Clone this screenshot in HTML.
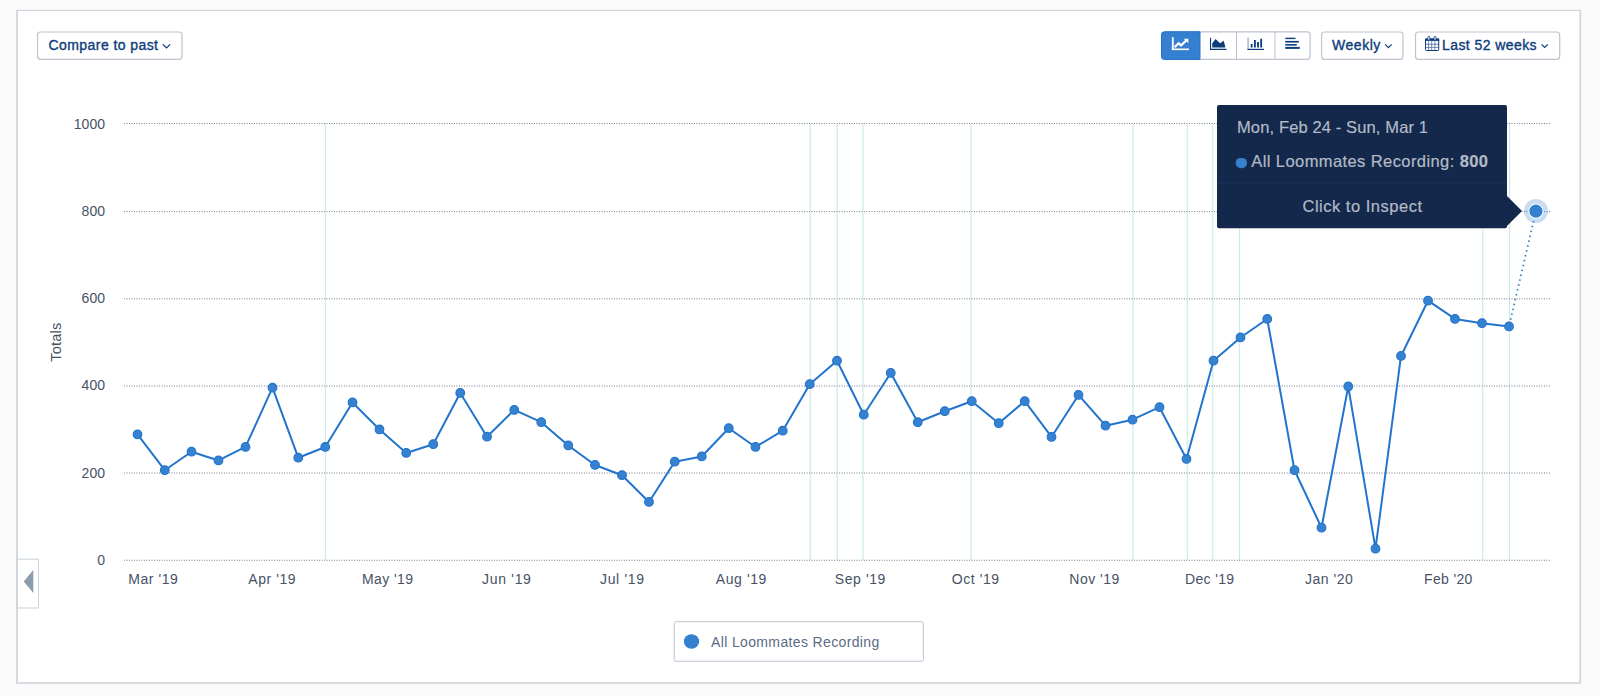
<!DOCTYPE html>
<html><head><meta charset="utf-8"><title>Chart</title>
<style>
html,body{margin:0;padding:0}
body{width:1600px;height:696px;background:#fafafa;position:relative;overflow:hidden;font-family:"Liberation Sans",sans-serif}
.chart{position:absolute;left:0;top:0;display:block}
text{font-family:"Liberation Sans",sans-serif;white-space:pre}
.ax{font-size:14px;fill:#465266;letter-spacing:.3px}
.ay{font-size:14px;fill:#465266;letter-spacing:.05px}
.bt{font-size:14px;fill:#0c3c7a;stroke:#0c3c7a;stroke-width:.35px}
.tt{font-size:16.5px;fill:#b2bac6;stroke:#b2bac6;stroke-width:.2px}
.lg{font-size:14px;fill:#5b6b84}
</style></head><body>
<svg class="chart" width="1600" height="696" viewBox="0 0 1600 696">
<rect x="16.1" y="9.8" width="1565" height="674.1" fill="#d1d6dd"/>
<rect x="18" y="11" width="1561.4" height="671.2" fill="#fff"/>
<line x1="325.5" y1="123" x2="325.5" y2="560" stroke="#cdeae8" stroke-width="1.2"/>
<line x1="810.25" y1="123" x2="810.25" y2="560" stroke="#cdeae8" stroke-width="1.2"/>
<line x1="837.25" y1="123" x2="837.25" y2="560" stroke="#cdeae8" stroke-width="1.2"/>
<line x1="863" y1="123" x2="863" y2="560" stroke="#cdeae8" stroke-width="1.2"/>
<line x1="971" y1="123" x2="971" y2="560" stroke="#cdeae8" stroke-width="1.2"/>
<line x1="1133" y1="123" x2="1133" y2="560" stroke="#cdeae8" stroke-width="1.2"/>
<line x1="1187.25" y1="123" x2="1187.25" y2="560" stroke="#cdeae8" stroke-width="1.2"/>
<line x1="1212.75" y1="123" x2="1212.75" y2="560" stroke="#cdeae8" stroke-width="1.2"/>
<line x1="1239.5" y1="123" x2="1239.5" y2="560" stroke="#cdeae8" stroke-width="1.2"/>
<line x1="1482.75" y1="123" x2="1482.75" y2="560" stroke="#cdeae8" stroke-width="1.2"/>
<line x1="1509.5" y1="123" x2="1509.5" y2="560" stroke="#cdeae8" stroke-width="1.2"/>
<line x1="124" y1="123.45" x2="1551" y2="123.45" stroke="#7b8292" stroke-width="1" stroke-dasharray="1 4"/>
<line x1="126" y1="123.45" x2="1551" y2="123.45" stroke="#b4bac4" stroke-width="1" stroke-dasharray="2 3"/>
<text x="105.1" y="128.9" text-anchor="end" class="ay">1000</text>
<line x1="124" y1="211.6" x2="1551" y2="211.6" stroke="#7b8292" stroke-width="1" stroke-dasharray="1 4"/>
<line x1="126" y1="211.6" x2="1551" y2="211.6" stroke="#b4bac4" stroke-width="1" stroke-dasharray="2 3"/>
<text x="105.1" y="216.1" text-anchor="end" class="ay">800</text>
<line x1="124" y1="298.85" x2="1551" y2="298.85" stroke="#7b8292" stroke-width="1" stroke-dasharray="1 4"/>
<line x1="126" y1="298.85" x2="1551" y2="298.85" stroke="#b4bac4" stroke-width="1" stroke-dasharray="2 3"/>
<text x="105.1" y="303.2" text-anchor="end" class="ay">600</text>
<line x1="124" y1="386.0" x2="1551" y2="386.0" stroke="#7b8292" stroke-width="1" stroke-dasharray="1 4"/>
<line x1="126" y1="386.0" x2="1551" y2="386.0" stroke="#b4bac4" stroke-width="1" stroke-dasharray="2 3"/>
<text x="105.1" y="390.4" text-anchor="end" class="ay">400</text>
<line x1="124" y1="473" x2="1551" y2="473" stroke="#7b8292" stroke-width="1" stroke-dasharray="1 4"/>
<line x1="126" y1="473" x2="1551" y2="473" stroke="#b4bac4" stroke-width="1" stroke-dasharray="2 3"/>
<text x="105.1" y="477.5" text-anchor="end" class="ay">200</text>
<line x1="124" y1="560.25" x2="1551" y2="560.25" stroke="#7b8292" stroke-width="1" stroke-dasharray="1 4"/>
<line x1="126" y1="560.25" x2="1551" y2="560.25" stroke="#b4bac4" stroke-width="1" stroke-dasharray="2 3"/>
<text x="105.1" y="564.6" text-anchor="end" class="ay">0</text>
<text x="128.20" y="583.7" class="ax" textLength="49.90">Mar '19</text>
<text x="248.25" y="583.7" class="ax" textLength="47.70">Apr '19</text>
<text x="362.00" y="583.7" class="ax" textLength="51.30">May '19</text>
<text x="482.10" y="583.7" class="ax" textLength="49.10">Jun '19</text>
<text x="600.00" y="583.7" class="ax" textLength="44.30">Jul '19</text>
<text x="715.80" y="583.7" class="ax" textLength="50.90">Aug '19</text>
<text x="834.80" y="583.7" class="ax" textLength="50.90">Sep '19</text>
<text x="951.70" y="583.7" class="ax" textLength="47.70">Oct '19</text>
<text x="1069.30" y="583.7" class="ax" textLength="50.20">Nov '19</text>
<text x="1185.00" y="583.7" class="ax" textLength="49.45">Dec '19</text>
<text x="1305.00" y="583.7" class="ax" textLength="48.20">Jan '20</text>
<text x="1424.00" y="583.7" class="ax" textLength="48.70">Feb '20</text>
<text transform="translate(61,361.7) rotate(-90)" class="ax" style="font-size:14.6px" textLength="39.2">Totals</text>
<path d="M137.5 434.45 L164.75 470.2 L191.5 451.7 L218.5 460.45 L245.5 446.95 L272.5 387.7 L298.25 457.7 L325.25 446.95 L352.5 402.45 L379.5 429.45 L406.25 452.95 L433.25 444.2 L460.25 392.95 L487.0 436.7 L514.25 409.95 L541.25 422.2 L568.25 445.45 L595.0 464.95 L622.0 475.2 L649.0 501.95 L674.75 461.7 L701.75 456.45 L728.75 428.2 L755.5 446.95 L782.75 430.7 L809.75 384.2 L837.0 360.7 L863.75 414.7 L890.75 372.95 L917.75 422.2 L944.75 411.2 L971.75 401.2 L998.75 423.2 L1024.75 401.2 L1051.5 436.95 L1078.5 394.95 L1105.5 425.7 L1132.5 419.7 L1159.5 407.2 L1186.5 458.95 L1213.5 360.7 L1240.5 337.45 L1267.25 318.95 L1294.5 470.2 L1321.5 527.7 L1348.25 386.45 L1375.5 548.7 L1401.0 355.95 L1428.0 300.7 L1455.0 318.95 L1482.0 323.2 L1509.0 326.45" fill="none" stroke="#2274cc" stroke-width="2" stroke-linejoin="round"/>
<line x1="1509.0" y1="326.45" x2="1535.9" y2="211.1" stroke="#3480cf" stroke-width="1.8" stroke-dasharray="1.5 3.5" stroke-dashoffset="-1.85"/>
<circle cx="137.5" cy="434.45" r="4.35" fill="#3782d0" stroke="#2274cc" stroke-width="1.1"/>
<circle cx="164.75" cy="470.2" r="4.35" fill="#3782d0" stroke="#2274cc" stroke-width="1.1"/>
<circle cx="191.5" cy="451.7" r="4.35" fill="#3782d0" stroke="#2274cc" stroke-width="1.1"/>
<circle cx="218.5" cy="460.45" r="4.35" fill="#3782d0" stroke="#2274cc" stroke-width="1.1"/>
<circle cx="245.5" cy="446.95" r="4.35" fill="#3782d0" stroke="#2274cc" stroke-width="1.1"/>
<circle cx="272.5" cy="387.7" r="4.35" fill="#3782d0" stroke="#2274cc" stroke-width="1.1"/>
<circle cx="298.25" cy="457.7" r="4.35" fill="#3782d0" stroke="#2274cc" stroke-width="1.1"/>
<circle cx="325.25" cy="446.95" r="4.35" fill="#3782d0" stroke="#2274cc" stroke-width="1.1"/>
<circle cx="352.5" cy="402.45" r="4.35" fill="#3782d0" stroke="#2274cc" stroke-width="1.1"/>
<circle cx="379.5" cy="429.45" r="4.35" fill="#3782d0" stroke="#2274cc" stroke-width="1.1"/>
<circle cx="406.25" cy="452.95" r="4.35" fill="#3782d0" stroke="#2274cc" stroke-width="1.1"/>
<circle cx="433.25" cy="444.2" r="4.35" fill="#3782d0" stroke="#2274cc" stroke-width="1.1"/>
<circle cx="460.25" cy="392.95" r="4.35" fill="#3782d0" stroke="#2274cc" stroke-width="1.1"/>
<circle cx="487.0" cy="436.7" r="4.35" fill="#3782d0" stroke="#2274cc" stroke-width="1.1"/>
<circle cx="514.25" cy="409.95" r="4.35" fill="#3782d0" stroke="#2274cc" stroke-width="1.1"/>
<circle cx="541.25" cy="422.2" r="4.35" fill="#3782d0" stroke="#2274cc" stroke-width="1.1"/>
<circle cx="568.25" cy="445.45" r="4.35" fill="#3782d0" stroke="#2274cc" stroke-width="1.1"/>
<circle cx="595.0" cy="464.95" r="4.35" fill="#3782d0" stroke="#2274cc" stroke-width="1.1"/>
<circle cx="622.0" cy="475.2" r="4.35" fill="#3782d0" stroke="#2274cc" stroke-width="1.1"/>
<circle cx="649.0" cy="501.95" r="4.35" fill="#3782d0" stroke="#2274cc" stroke-width="1.1"/>
<circle cx="674.75" cy="461.7" r="4.35" fill="#3782d0" stroke="#2274cc" stroke-width="1.1"/>
<circle cx="701.75" cy="456.45" r="4.35" fill="#3782d0" stroke="#2274cc" stroke-width="1.1"/>
<circle cx="728.75" cy="428.2" r="4.35" fill="#3782d0" stroke="#2274cc" stroke-width="1.1"/>
<circle cx="755.5" cy="446.95" r="4.35" fill="#3782d0" stroke="#2274cc" stroke-width="1.1"/>
<circle cx="782.75" cy="430.7" r="4.35" fill="#3782d0" stroke="#2274cc" stroke-width="1.1"/>
<circle cx="809.75" cy="384.2" r="4.35" fill="#3782d0" stroke="#2274cc" stroke-width="1.1"/>
<circle cx="837.0" cy="360.7" r="4.35" fill="#3782d0" stroke="#2274cc" stroke-width="1.1"/>
<circle cx="863.75" cy="414.7" r="4.35" fill="#3782d0" stroke="#2274cc" stroke-width="1.1"/>
<circle cx="890.75" cy="372.95" r="4.35" fill="#3782d0" stroke="#2274cc" stroke-width="1.1"/>
<circle cx="917.75" cy="422.2" r="4.35" fill="#3782d0" stroke="#2274cc" stroke-width="1.1"/>
<circle cx="944.75" cy="411.2" r="4.35" fill="#3782d0" stroke="#2274cc" stroke-width="1.1"/>
<circle cx="971.75" cy="401.2" r="4.35" fill="#3782d0" stroke="#2274cc" stroke-width="1.1"/>
<circle cx="998.75" cy="423.2" r="4.35" fill="#3782d0" stroke="#2274cc" stroke-width="1.1"/>
<circle cx="1024.75" cy="401.2" r="4.35" fill="#3782d0" stroke="#2274cc" stroke-width="1.1"/>
<circle cx="1051.5" cy="436.95" r="4.35" fill="#3782d0" stroke="#2274cc" stroke-width="1.1"/>
<circle cx="1078.5" cy="394.95" r="4.35" fill="#3782d0" stroke="#2274cc" stroke-width="1.1"/>
<circle cx="1105.5" cy="425.7" r="4.35" fill="#3782d0" stroke="#2274cc" stroke-width="1.1"/>
<circle cx="1132.5" cy="419.7" r="4.35" fill="#3782d0" stroke="#2274cc" stroke-width="1.1"/>
<circle cx="1159.5" cy="407.2" r="4.35" fill="#3782d0" stroke="#2274cc" stroke-width="1.1"/>
<circle cx="1186.5" cy="458.95" r="4.35" fill="#3782d0" stroke="#2274cc" stroke-width="1.1"/>
<circle cx="1213.5" cy="360.7" r="4.35" fill="#3782d0" stroke="#2274cc" stroke-width="1.1"/>
<circle cx="1240.5" cy="337.45" r="4.35" fill="#3782d0" stroke="#2274cc" stroke-width="1.1"/>
<circle cx="1267.25" cy="318.95" r="4.35" fill="#3782d0" stroke="#2274cc" stroke-width="1.1"/>
<circle cx="1294.5" cy="470.2" r="4.35" fill="#3782d0" stroke="#2274cc" stroke-width="1.1"/>
<circle cx="1321.5" cy="527.7" r="4.35" fill="#3782d0" stroke="#2274cc" stroke-width="1.1"/>
<circle cx="1348.25" cy="386.45" r="4.35" fill="#3782d0" stroke="#2274cc" stroke-width="1.1"/>
<circle cx="1375.5" cy="548.7" r="4.35" fill="#3782d0" stroke="#2274cc" stroke-width="1.1"/>
<circle cx="1401.0" cy="355.95" r="4.35" fill="#3782d0" stroke="#2274cc" stroke-width="1.1"/>
<circle cx="1428.0" cy="300.7" r="4.35" fill="#3782d0" stroke="#2274cc" stroke-width="1.1"/>
<circle cx="1455.0" cy="318.95" r="4.35" fill="#3782d0" stroke="#2274cc" stroke-width="1.1"/>
<circle cx="1482.0" cy="323.2" r="4.35" fill="#3782d0" stroke="#2274cc" stroke-width="1.1"/>
<circle cx="1509.0" cy="326.45" r="4.35" fill="#3782d0" stroke="#2274cc" stroke-width="1.1"/>
<circle cx="1535.9" cy="211.1" r="12.05" fill="#3480cf" fill-opacity=".27"/>
<circle cx="1535.9" cy="211.1" r="7.6" fill="#fff"/>
<circle cx="1535.9" cy="211.1" r="6.6" fill="#3480cf"/>
<rect x="37.5" y="32" width="144.5" height="27.3" rx="3" fill="#fff" stroke="#bcc4cf" stroke-width="1.2"/>
<text x="48.5" y="49.6" class="bt" textLength="109.5">Compare to past</text>
<path d="M162.9 44.4 L166.5 48 L170.1 44.4" fill="none" stroke="#0c3c7a" stroke-width="1.2"/>
<rect x="1161.5" y="31.9" width="148.6" height="27.4" rx="3" fill="#fff" stroke="#bcc4cf" stroke-width="1.2"/>
<path d="M1164.5 31.8 H1200 V59.4 H1164.5 a3 3 0 0 1 -3 -3 V34.8 a3 3 0 0 1 3 -3 Z" fill="#357fd0" stroke="#2475cc" stroke-width="1"/>
<rect x="1236" y="32" width="1" height="27" fill="#bcc4cf"/><rect x="1274.5" y="32" width="1" height="27" fill="#bcc4cf"/>
<rect x="1171.9" y="37.25" width="1.8" height="12.8" fill="#fff"/><rect x="1171.9" y="48.5" width="17.1" height="1.6" fill="#fff"/>
<path d="M1174.6 47.2 L1178.75 43.25 L1181 45.5 L1186.4 40.2" fill="none" stroke="#fff" stroke-width="2.3"/>
<path d="M1183.8 38.75 H1188.3 V43.2 Z" fill="#fff"/>
<rect x="1210" y="37.75" width="1.1" height="12.3" fill="#0c3c7a"/><rect x="1210" y="48.7" width="16.5" height="1.3" fill="#0c3c7a"/>
<path d="M1212.25 47.5 V43.25 L1215.5 39 L1220 43.25 L1223.75 40.75 L1225.4 47.5 Z" fill="#0c3c7a"/>
<rect x="1247.5" y="37.5" width="1.1" height="12.3" fill="#0c3c7a" opacity=".5"/><rect x="1247.5" y="48.8" width="16.5" height="1.2" fill="#0c3c7a"/>
<rect x="1250.75" y="44" width="1.8" height="3.5" fill="#0c3c7a"/>
<rect x="1254.00" y="40" width="1.8" height="7.5" fill="#0c3c7a"/>
<rect x="1257.10" y="42" width="1.8" height="5.5" fill="#0c3c7a"/>
<rect x="1260.25" y="38.75" width="1.8" height="8.75" fill="#0c3c7a"/>
<rect x="1285.25" y="37.70" width="10.25" height="1.4" fill="#0c3c7a"/>
<rect x="1285.25" y="40.90" width="13.50" height="1.7" fill="#0c3c7a"/>
<rect x="1285.25" y="44.05" width="11.50" height="1.6" fill="#0c3c7a"/>
<rect x="1285.25" y="46.90" width="14.50" height="2" fill="#0c3c7a"/>
<rect x="1321.6" y="32" width="81.4" height="27.3" rx="3" fill="#fff" stroke="#bcc4cf" stroke-width="1.2"/>
<text x="1332.1" y="49.7" class="bt" textLength="48.2">Weekly</text>
<path d="M1385.2 44.4 L1388.4 47.6 L1391.6 44.4" fill="none" stroke="#0c3c7a" stroke-width="1.2"/>
<rect x="1415.5" y="32" width="144.2" height="27.3" rx="3" fill="#fff" stroke="#bcc4cf" stroke-width="1.2"/>
<text x="1442" y="49.7" class="bt" textLength="94.6">Last 52 weeks</text>
<path d="M1541.6 44.4 L1544.7 47.5 L1547.8 44.4" fill="none" stroke="#0c3c7a" stroke-width="1.2"/>
<rect x="1425.5" y="39" width="13.2" height="11.5" rx=".8" fill="#fff" stroke="#0c3c7a" stroke-width="1"/>
<rect x="1425" y="38.6" width="14.2" height="2.3" fill="#0c3c7a"/>
<path d="M1425.5 44.3 H1438.7 M1425.5 47.4 H1438.7 M1428.6 41 V50.5 M1431.7 41 V50.5 M1434.9 41 V50.5" stroke="#0c3c7a" stroke-width=".75" fill="none" opacity=".75"/>
<rect x="1427.9" y="36.3" width="1.9" height="4" rx=".9" fill="#fff" stroke="#0c3c7a" stroke-width=".8"/><rect x="1434.1" y="36.3" width="1.9" height="4" rx=".9" fill="#fff" stroke="#0c3c7a" stroke-width=".8"/>
<rect x="1217" y="105" width="290" height="123.2" rx="2" fill="#13284b"/>
<path d="M1506.5 195.5 L1522 211 L1506.5 226.5 Z" fill="#13284b"/>
<line x1="1217" y1="183" x2="1507" y2="183" stroke="#213d69" stroke-width="1" stroke-dasharray="1.5 1"/>
<text x="1237" y="133" class="tt" textLength="191">Mon, Feb 24 - Sun, Mar 1</text>
<rect x="1235.75" y="157.9" width="11.25" height="10.4" rx="5" fill="#3780d0"/>
<text x="1251.3" y="167" class="tt" textLength="236.7">All Loommates Recording: <tspan font-weight="bold">800</tspan></text>
<text x="1302.5" y="211.75" class="tt" textLength="119.5">Click to Inspect</text>
<rect x="674.2" y="621.7" width="249.2" height="39.6" rx="2" fill="#fff" stroke="#bcc4cf"/>
<ellipse cx="691.5" cy="641.5" rx="7.6" ry="7.3" fill="#3480cf"/>
<text x="711" y="646.7" class="lg" textLength="168.25">All Loommates Recording</text>
<rect x="17" y="559.2" width="21.4" height="48.8" fill="#fff" stroke="#c8d0d8"/>
<rect x="16.1" y="558" width="1.9" height="51" fill="#d1d6dd"/>
<path d="M23.7 581.6 L33.3 570.1 V593.1 Z" fill="#8d9bae"/>
</svg>
</body></html>
